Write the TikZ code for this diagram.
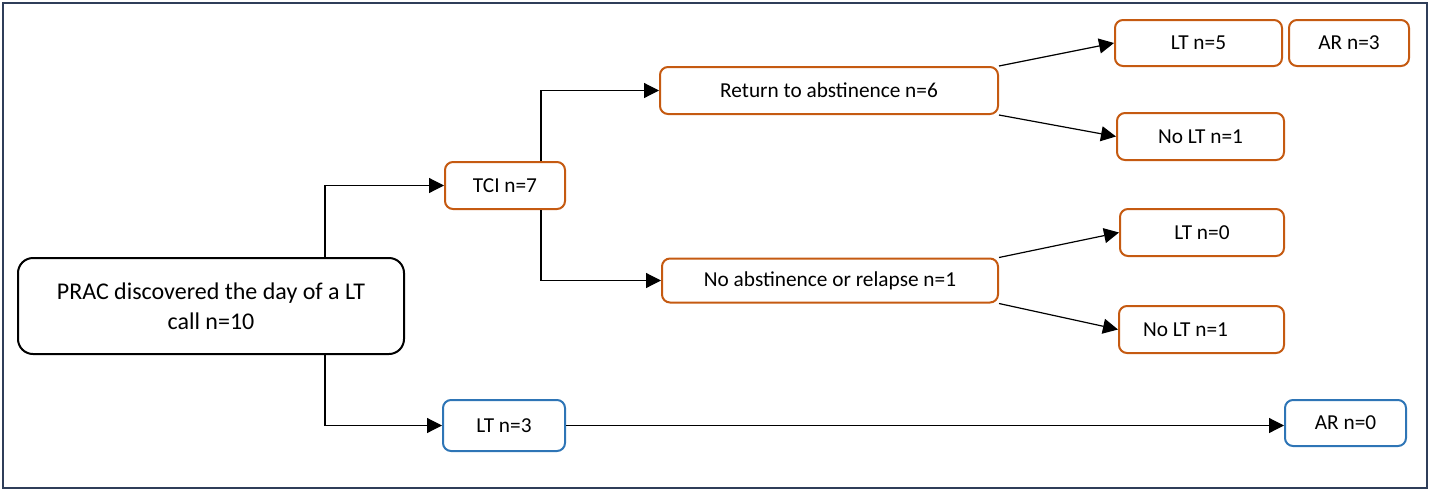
\documentclass[tikz,border=0pt]{standalone}
\usepackage{fontspec}
\setmainfont{Carlito}
\usetikzlibrary{calc,arrows.meta}
\definecolor{boxorange}{RGB}{197,90,17}
\definecolor{boxblue}{RGB}{46,117,182}
\definecolor{framenavy}{RGB}{47,62,89}
\tikzset{
	box/.style={draw, rounded corners=8pt, line width=2pt, inner sep=0pt, font=\fontsize{21.3}{25}\selectfont},
	orangebox/.style={box, draw=boxorange},
	bluebox/.style={box, draw=boxblue},
	conn/.style={line width=1.2pt, -{Triangle[length=15pt,width=15pt]}}
}

\begin{document}
\begin{tikzpicture}[x=1pt, y=-1pt]
			%%%%% START %%%%%
			
			\useasboundingbox (0, 0) rectangle (1430, 491);
			\draw[framenavy, line width=2.2pt] (3, 3) rectangle (1427, 488);
			
			\node[box, rounded corners=15pt, minimum width=386pt, minimum height=96pt, align=center, font=\fontsize{24}{30}\selectfont] (prac) at (211, 306) {PRAC discovered the day of a LT\\call n=10};
			
			\node[orangebox, minimum width=120pt, minimum height=47pt] (tci) at (505, 185.5) {TCI n=7};
			\node[orangebox, minimum width=338pt, minimum height=47pt] (ret) at (829, 90.5) {Return to abstinence n=6};
			\node[orangebox, minimum width=336pt, minimum height=44pt] (noabs) at (830, 280.5) {No abstinence or relapse n=1};
			
			\node[orangebox, minimum width=167pt, minimum height=46pt] (ltfive) at (1198.5, 43) {LT n=5};
			\node[orangebox, minimum width=120pt, minimum height=46pt] (arthree) at (1349, 43) {AR n=3};
			\node[orangebox, minimum width=167pt, minimum height=47pt] (noltone) at (1200.5, 136.5) {No LT n=1};
			\node[orangebox, minimum width=165pt, minimum height=47pt, text width=117pt, align=flush left, inner xsep=24pt] (nolttwo) at (1201.5, 329.5) {No LT n=1};
			\node[orangebox, minimum width=164pt, minimum height=47pt] (ltzero) at (1202, 232.5) {LT n=0};
			
			\node[bluebox, minimum width=122pt, minimum height=51pt] (ltthree) at (504, 425.5) {LT n=3};
			\node[bluebox, minimum width=121pt, minimum height=46pt] (arzero) at (1345.5, 423) {AR n=0};
			
			\draw[conn] ($(prac.north)+(114, 0)$) |- (tci.west);
			\draw[conn] ($(prac.south)+(114, 0)$) |- (ltthree.west);
			
			\draw[conn] ($(tci.north)+(36, 0)$) |- (ret.west);
			\draw[conn] ($(tci.south)+(36, 0)$) |- (noabs.west);
			
			\draw[conn] (ret.north east) -- (ltfive.west);
			\draw[conn] (ret.south east) -- (noltone.west);
			\draw[conn] (noabs.north east) -- (ltzero.west);
			\draw[conn] (noabs.south east) -- (nolttwo.west);
			
			\draw[conn] (ltthree.east) -- (ltthree.east -| arzero.west);
			
			%%%%% END %%%%%
\end{tikzpicture}
\end{document}
